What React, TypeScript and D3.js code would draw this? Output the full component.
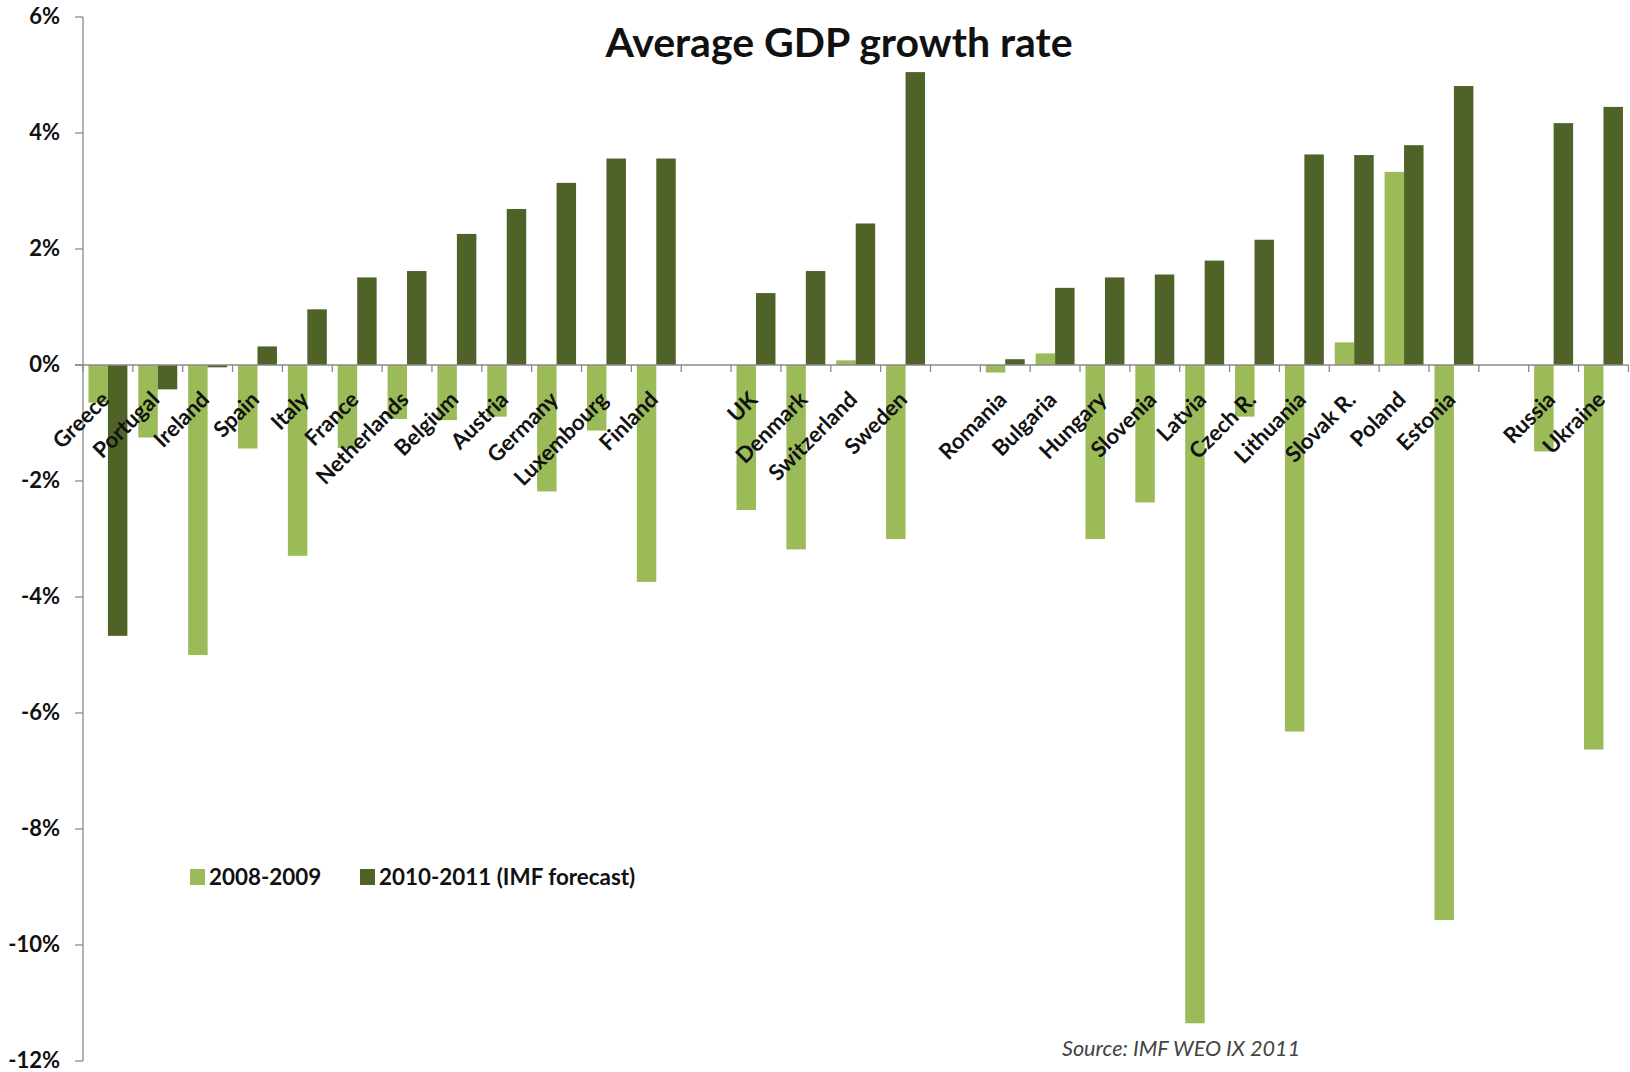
import React from "react";
import * as d3 from "d3";

const categories: string[] = [
  "Greece", "Portugal", "Ireland", "Spain", "Italy", "France", "Netherlands", "Belgium",
  "Austria", "Germany", "Luxembourg", "Finland", "",
  "UK", "Denmark", "Switzerland", "Sweden", "",
  "Romania", "Bulgaria", "Hungary", "Slovenia", "Latvia", "Czech R.", "Lithuania",
  "Slovak R.", "Poland", "Estonia", "",
  "Russia", "Ukraine",
];

const growth0809: (number | null)[] = [
  -0.65, -1.25, -5.0, -1.44, -3.29, -1.43, -0.93, -0.95,
  -0.89, -2.18, -1.13, -3.74, null,
  -2.5, -3.18, 0.08, -3.0, null,
  -0.13, 0.2, -3.0, -2.37, -11.35, -0.89, -6.32,
  0.39, 3.33, -9.57, null,
  -1.49, -6.63,
];

const growth1011: (number | null)[] = [
  -4.67, -0.42, -0.04, 0.32, 0.96, 1.51, 1.62, 2.26,
  2.69, 3.14, 3.56, 3.56, null,
  1.24, 1.62, 2.44, 5.05, null,
  0.1, 1.33, 1.51, 1.56, 1.8, 2.16, 3.63,
  3.62, 3.79, 4.81, null,
  4.17, 4.45,
];

const seriesNames: string[] = ["2008-2009", "2010-2011 (IMF forecast)"];
const seriesColors: string[] = ["#9bbb59", "#4f6228"];
const yTicks: number[] = [6, 4, 2, 0, -2, -4, -6, -8, -10, -12];

const W = 1630;
const H = 1072;
const FONT = "Lato, 'Open Sans', sans-serif";

export default function App() {
  const left = 83;
  const right = 1628.4;
  const x = d3
    .scaleBand<number>()
    .domain(d3.range(categories.length))
    .range([left, right])
    .padding(0);
  const xs = d3
    .scaleBand<number>()
    .domain([0, 1])
    .range([0, x.bandwidth()])
    .paddingInner(0)
    .paddingOuter(0.28);
  const y = d3.scaleLinear().domain([-12, 6]).range([1061, 17]);
  const y0 = y(0);
  const series = [growth0809, growth1011];

  return (
    <div style={{ position: "absolute", left: 0, top: 0 }}>
      <svg width={W} height={H} style={{ display: "block", background: "#fff" }}>
        <rect x={0} y={0} width={W} height={H} fill="#ffffff" />
        {/* bars */}
        {series.map((vals, si) =>
          vals.map((v, i) => {
            if (v === null) return null;
            const bx = (x(i) as number) + (xs(si) as number);
            const yTop = y(Math.max(0, v));
            const yBot = y(Math.min(0, v));
            return (
              <rect
                key={`b${si}-${i}`}
                x={bx}
                y={yTop}
                width={xs.bandwidth()}
                height={Math.max(0.8, yBot - yTop)}
                fill={seriesColors[si]}
              />
            );
          })
        )}
        {/* y axis */}
        <line x1={left} x2={left} y1={y(6)} y2={y(-12)} stroke="#8a8a8a" strokeWidth={1.3} />
        {yTicks.map((t) => (
          <g key={`yt${t}`}>
            <line x1={left - 8} x2={left} y1={y(t)} y2={y(t)} stroke="#8a8a8a" strokeWidth={1.3} />
            <text
              x={60}
              y={y(t)}
              dy="0.3em"
              textAnchor="end"
              fontFamily={FONT}
              fontWeight={700}
              fontSize={22}
              fill="#111"
            >
              {`${t}%`}
            </text>
          </g>
        ))}
        {/* x axis */}
        <line x1={left - 8} x2={right} y1={y0} y2={y0} stroke="#8a8a8a" strokeWidth={1.3} />
        {d3.range(categories.length + 1).map((k) => {
          const tx = left + k * x.step();
          return (
            <line key={`xt${k}`} x1={tx} x2={tx} y1={y0} y2={y0 + 7} stroke="#8a8a8a" strokeWidth={1.3} />
          );
        })}
        {categories.map((c, i) => {
          if (!c) return null;
          const cx = (x(i) as number) + x.bandwidth() / 2 + 3;
          const cy = y0 + 36;
          return (
            <text
              key={`xl${i}`}
              transform={`translate(${cx},${cy}) rotate(-45)`}
              textAnchor="end"
              fontFamily={FONT}
              fontWeight={700}
              fontSize={22}
              fill="#111"
            >
              {c}
            </text>
          );
        })}
        {/* title */}
        <text
          x={839}
          y={57}
          textAnchor="middle"
          fontFamily={FONT}
          fontWeight={700}
          fontSize={41}
          fill="#111"
        >
          Average GDP growth rate
        </text>
        {/* legend */}
        <rect x={190} y={869} width={15} height={16} fill={seriesColors[0]} />
        <text x={209} y={885} fontFamily={FONT} fontWeight={700} fontSize={22.4} fill="#111">
          {seriesNames[0]}
        </text>
        <rect x={360} y={869} width={15} height={16} fill={seriesColors[1]} />
        <text x={379} y={885} fontFamily={FONT} fontWeight={700} fontSize={22.4} fill="#111">
          {seriesNames[1]}
        </text>
        {/* source */}
        <text
          x={1062}
          y={1056}
          fontFamily={FONT}
          fontStyle="italic"
          fontSize={21.6}
          fill="#444"
        >
          Source: IMF WEO IX 2011
        </text>
      </svg>
    </div>
  );
}
